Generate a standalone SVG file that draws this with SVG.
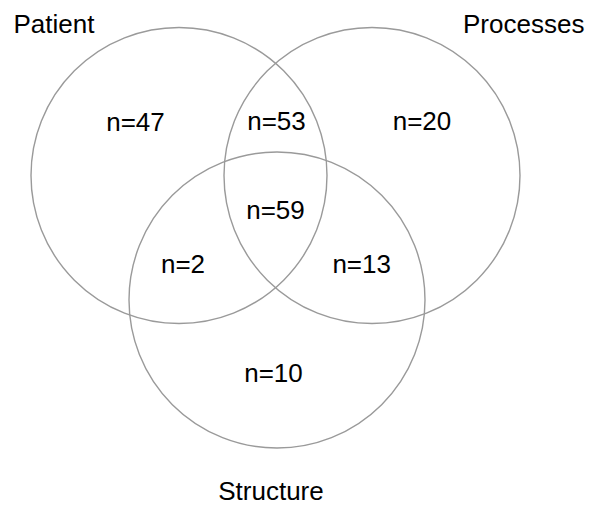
<svg xmlns="http://www.w3.org/2000/svg" width="589" height="506" viewBox="0 0 589 506">
<style>
.c{fill:none;stroke:#9a9a9a;stroke-width:1.4}
text{font-family:"Liberation Sans",Arial,sans-serif;font-size:26px;fill:#000}
.m{text-anchor:middle}
</style>
<rect width="589" height="506" fill="#fff"/>
<g id="patient">
<circle class="c" cx="179" cy="175.5" r="148"/>
<text x="13.5" y="33">Patient</text>
</g>
<g id="processes">
<circle class="c" cx="372" cy="175.5" r="148"/>
<text x="463" y="33">Processes</text>
</g>
<g id="structure">
<circle class="c" cx="277" cy="300" r="148"/>
<text class="m" x="271" y="500">Structure</text>
</g>
<g id="counts">
<text class="m" x="135.5" y="130.5">n=47</text>
<text class="m" x="276.5" y="129.5">n=53</text>
<text class="m" x="422" y="130">n=20</text>
<text class="m" x="275.5" y="219">n=59</text>
<text class="m" x="183" y="272.5">n=2</text>
<text class="m" x="361.7" y="272.5">n=13</text>
<text class="m" x="273.5" y="382">n=10</text>
</g>
<g id="connectors"></g>
</svg>
